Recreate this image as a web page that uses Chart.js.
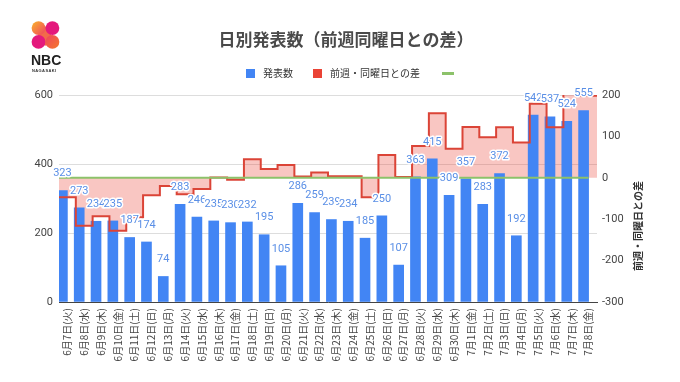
<!DOCTYPE html>
<html>
<head>
<meta charset="utf-8">
<script src="https://cdn.jsdelivr.net/npm/chart.js@4.4.0/dist/chart.umd.min.js"></script>
<style>
  html, body { margin: 0; padding: 0; background: #fff; }
  #wrap { position: relative; width: 680px; height: 382px; overflow: hidden; }
  #c { position: absolute; left: 0; top: 0; }
  #title { position: absolute; left: 0; width: 692px; top: 28px; text-align: center;
    font: bold 17px "Noto Sans CJK JP", sans-serif; color: #4a4a4a; line-height: 22px; }
  #legend { position: absolute; top: 64px; left: 246px; height: 14px;
    font: 10px "Noto Sans CJK JP", sans-serif; color: #333; white-space: nowrap; }
  #legend span { display: inline-block; vertical-align: middle; }
  .box { width: 9px; height: 9px; margin-right: 8px; }
  .lt { margin-right: 20px; line-height: 14px; }
  .ln { width: 12px; height: 3px; background: #8cc26a; margin-left: 2px; }
  #logo { position: absolute; left: 26px; top: 19px; width: 36px; }
  #logo .nbc { position: absolute; left: 5px; top: 33px; font: bold 14px "Liberation Sans", Arial, sans-serif; color: #222; }
  #logo .ngs { position: absolute; left: 6px; top: 49px; font: bold 4px "Liberation Sans", Arial, sans-serif; color: #333; letter-spacing: 0.4px; }
</style>
</head>
<body>
<div id="wrap">
  <canvas id="c" width="680" height="382"></canvas>
  <div id="logo">
    <svg width="32" height="32" viewBox="0 0 30 30" style="position:absolute;left:4px;top:0">
      <defs>
        <linearGradient id="g1" x1="0" y1="0" x2="1" y2="1">
          <stop offset="0" stop-color="#f9b52a"/><stop offset="1" stop-color="#f0445f"/>
        </linearGradient>
        <linearGradient id="g2" x1="0" y1="0" x2="1" y2="1">
          <stop offset="0" stop-color="#f0445f"/><stop offset="1" stop-color="#f47a2a"/>
        </linearGradient>
      </defs>
      <polygon points="4,8 14,6 25,22 14,25" fill="#f26a4a"/>
      <circle cx="8" cy="8.5" r="6.5" fill="url(#g1)"/>
      <circle cx="21" cy="8.5" r="6.5" fill="#e4197c"/>
      <circle cx="8" cy="21.5" r="6.5" fill="#e4197c"/>
      <circle cx="21" cy="21.5" r="6.5" fill="url(#g2)"/>
    </svg>
    <div class="nbc">NBC</div>
    <div class="ngs">NAGASAKI</div>
  </div>
  <div id="title">日別発表数（前週同曜日との差）</div>
  <div id="legend">
    <span class="box" style="background:#4285f4"></span><span class="lt">発表数</span><span class="box" style="background:#ea4335"></span><span class="lt">前週・同曜日との差</span><span class="ln"></span>
  </div>
</div>
<script>
const dates = ['6月7日(火)','6月8日(水)','6月9日(木)','6月10日(金)','6月11日(土)','6月12日(日)','6月13日(月)',
  '6月14日(火)','6月15日(水)','6月16日(木)','6月17日(金)','6月18日(土)','6月19日(日)','6月20日(月)',
  '6月21日(火)','6月22日(水)','6月23日(木)','6月24日(金)','6月25日(土)','6月26日(日)','6月27日(月)',
  '6月28日(火)','6月29日(水)','6月30日(木)','7月1日(金)','7月2日(土)','7月3日(日)','7月4日(月)',
  '7月5日(火)','7月6日(水)','7月7日(木)','7月8日(金)'];
const counts = [323,273,234,235,187,174,74, 283,246,235,230,232,195,105, 286,259,239,234,185,250,107,
  363,415,309,357,283,372,192, 542,537,524,555];
const diffs = [-47,-116,-93,-128,-95,-42,-20, -40,-27,1,-5,45,21,31, 3,13,4,4,-47,55,2,
  77,156,70,123,98,122,85, 179,122,215,198];
const zeroLevel = 0;
const leftTicks = {min: 0, max: 600, step: 200};
const rightTicks = {min: -300, max: 200, step: 100};
const rightTitle = '前週・同曜日との差';

// step points: each category spans [i, i+1] on a hidden linear axis
const stepPts = diffs.map((v, i) => ({x: i, y: v}));
stepPts.push({x: diffs.length, y: diffs[diffs.length - 1]});
const zeroPts = [{x: 0, y: zeroLevel}].concat(dates.map((d, i) => ({x: i + 0.5, y: zeroLevel})));

const FONT = '"Noto Sans CJK JP", sans-serif';

const labelPlugin = {
  id: 'barLabels',
  afterDatasetsDraw(chart) {
    const ctx = chart.ctx;
    const meta = chart.getDatasetMeta(0);
    ctx.save();
    ctx.font = '11px Roboto, ' + FONT;
    ctx.textAlign = 'center';
    ctx.textBaseline = 'middle';
    ctx.lineJoin = 'round';
    meta.data.forEach((el, i) => {
      const t = String(counts[i]);
      ctx.strokeStyle = '#ffffff';
      ctx.lineWidth = 3;
      ctx.strokeText(t, el.x, el.y - 17);
      ctx.fillStyle = '#5a8fe6';
      ctx.fillText(t, el.x, el.y - 17);
    });
    ctx.restore();
  },
  afterDraw(chart) {
    const ctx = chart.ctx;
    ctx.save();
    ctx.translate(638, 226);
    ctx.rotate(-Math.PI / 2);
    ctx.font = 'bold 10px ' + FONT;
    ctx.fillStyle = '#333';
    ctx.textAlign = 'center';
    ctx.textBaseline = 'middle';
    ctx.fillText(rightTitle, 0, 0);
    ctx.restore();
  }
};

new Chart(document.getElementById('c'), {
  data: {
    labels: dates,
    datasets: [
      { type: 'bar', label: '発表数', data: counts, backgroundColor: '#4285f4',
        xAxisID: 'x', yAxisID: 'y', barThickness: 10, order: 2 },
      { type: 'line', label: 'fill', data: stepPts, xAxisID: 'x2', yAxisID: 'y1', stepped: 'before',
        borderWidth: 0, borderColor: 'rgba(0,0,0,0)', pointRadius: 0,
        fill: {value: zeroLevel}, backgroundColor: 'rgba(234,67,53,0.3)', order: 3 },
      { type: 'line', label: '前週・同曜日との差', data: stepPts, xAxisID: 'x2', yAxisID: 'y1', stepped: 'before',
        borderWidth: 2, borderColor: '#db4437', pointRadius: 0, fill: false, order: 1 },
      { type: 'line', label: 'zero', data: zeroPts, xAxisID: 'x2', yAxisID: 'y1',
        borderWidth: 2, borderColor: '#8cc26a', pointRadius: 0, fill: false, order: 0 }
    ]
  },
  options: {
    responsive: false,
    animation: false,
    events: [],
    layout: { padding: { top: 95, left: 0, right: 0, bottom: 0 } },
    plugins: { legend: { display: false }, title: { display: false }, tooltip: { enabled: false } },
    scales: {
      x: { type: 'category', position: 'bottom', offset: true,
        grid: { display: false, drawTicks: false },
        border: { display: true, color: '#444', width: 1 },
        ticks: { autoSkip: false, maxRotation: 90, minRotation: 90, padding: 6,
          color: '#444', font: { family: FONT, size: 10 } },
        afterFit(s) { s.height = 80; } },
      x2: { type: 'linear', min: 0, max: dates.length, display: false },
      y: { position: 'left', min: leftTicks.min, max: leftTicks.max,
        ticks: { stepSize: leftTicks.step, padding: 6, color: '#444', font: { family: 'Roboto', size: 11 } },
        grid: { color: '#dddddd', drawTicks: false }, border: { display: false },
        afterFit(s) { s.width = 59; } },
      y1: { position: 'right', min: rightTicks.min, max: rightTicks.max,
        ticks: { stepSize: rightTicks.step, padding: 5, color: '#444', font: { family: 'Roboto', size: 11 } },
        grid: { display: false, drawTicks: false }, border: { display: false },
        afterFit(s) { s.width = 83; } }
    }
  },
  plugins: [labelPlugin]
});
</script>
</body>
</html>
